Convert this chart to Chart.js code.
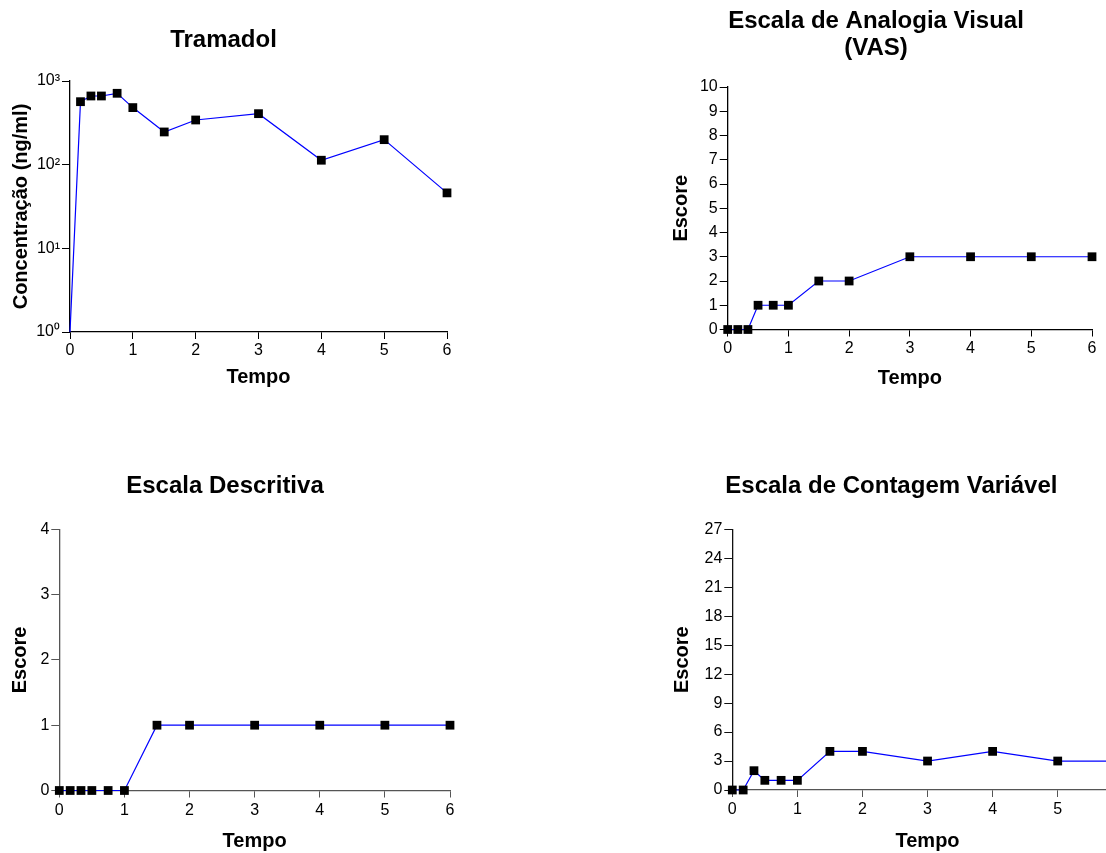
<!DOCTYPE html>
<html>
<head>
<meta charset="utf-8">
<script src="https://cdn.jsdelivr.net/npm/chart.js@4.4.1/dist/chart.umd.min.js"></script>
<style>
    html, body { margin: 0; padding: 0; background: #fff; overflow: hidden; }
    body { position: relative; width: 1106px; height: 853px; }
    canvas { position: absolute; }
</style>
</head>
<body>
<canvas id="tramadolChart" width="517" height="389" style="left:0px;top:0px"></canvas>
<canvas id="vasChart" width="500" height="390" style="left:660px;top:0px"></canvas>
<canvas id="descChart" width="509" height="423" style="left:0px;top:430px"></canvas>
<canvas id="contChart" width="535" height="423" style="left:660px;top:430px"></canvas>
<script>
// time points (hours)
const tempo = [0, 0.167, 0.333, 0.5, 0.75, 1, 1.5, 2, 3, 4, 5, 6];
const tempoTicks = [0, 1, 2, 3, 4, 5, 6];

// Tramadol concentration (ng/ml), first point sits on the axis bottom
const tramadolConc = [1, 566, 662, 662, 713, 481, 246, 342, 407, 113, 199, 46];
const tramadolTicks = [1, 10, 100, 1000];
const tramadolTickLabels = ["10⁰", "10¹", "10²", "10³"];

const vasScore = [0, 0, 0, 1, 1, 1, 2, 2, 3, 3, 3, 3];
const vasTicks = [0, 1, 2, 3, 4, 5, 6, 7, 8, 9, 10];

const descScore = [0, 0, 0, 0, 0, 0, 1, 1, 1, 1, 1, 1];
const descTicks = [0, 1, 2, 3, 4];

const contScore = [0, 0, 2, 1, 1, 1, 4, 4, 3, 4, 3, 3];
const contTicks = [0, 3, 6, 9, 12, 15, 18, 21, 24, 27];

Chart.defaults.font.family = 'Arial, "Liberation Sans", sans-serif';
Chart.defaults.color = "#000";

function toPoints(xs, ys) {
    return xs.map((x, i) => ({ x, y: ys[i] }));
}

function setTicks(values) {
    return scale => { scale.ticks = values.map(v => ({ value: v })); };
}

function makeChart(id, o) {
    const canvas = document.getElementById(id);
    return new Chart(canvas, {
        type: "line",
        data: {
            datasets: [{
                data: toPoints(tempo, o.values),
                borderColor: "#0000ff",
                borderWidth: 1.2,
                pointStyle: "rect",
                pointRadius: o.radius || 6.2,
                pointBackgroundColor: "#000",
                pointBorderColor: "#000",
                pointBorderWidth: 0,
                tension: 0,
                clip: false
            }]
        },
        options: {
            responsive: false,
            animation: false,
            events: [],
            layout: { padding: { left: 0, right: o.padRight, top: 0, bottom: 0 } },
            plugins: {
                legend: { display: false },
                tooltip: { enabled: false },
                title: {
                    display: true,
                    text: o.title,
                    color: "#000",
                    font: { size: 24, weight: "bold", lineHeight: o.titleLine || 1.2 },
                    padding: { top: o.titleTop, bottom: o.titleBottom }
                }
            },
            scales: {
                x: {
                    type: "linear",
                    min: 0,
                    max: 6,
                    afterBuildTicks: setTicks(tempoTicks),
                    afterFit: scale => {
                        scale.height = o.xHeight;
                        scale.paddingLeft = scale.paddingRight = 0;
                        scale.paddingTop = scale.paddingBottom = 0;
                    },
                    grid: {
                        drawOnChartArea: false,
                        drawTicks: true,
                        tickLength: 7,
                        tickColor: o.xColor,
                        tickWidth: 1
                    },
                    border: { display: true, color: o.xColor, width: 1.3 },
                    ticks: {
                        padding: o.xPad,
                        maxRotation: 0,
                        autoSkip: false,
                        font: { size: 16 },
                        callback: v => String(v)
                    },
                    title: {
                        display: true,
                        text: "Tempo",
                        font: { size: 20, weight: "bold" },
                        padding: { top: 0, bottom: 0 }
                    }
                },
                y: {
                    type: o.log ? "logarithmic" : "linear",
                    min: o.yTicks[0],
                    max: o.yTicks[o.yTicks.length - 1],
                    afterBuildTicks: setTicks(o.yTicks),
                    afterFit: scale => {
                        scale.width = o.yWidth;
                        scale.paddingLeft = scale.paddingRight = 0;
                        scale.paddingTop = scale.paddingBottom = 0;
                    },
                    grid: {
                        drawOnChartArea: false,
                        drawTicks: true,
                        tickLength: 8,
                        tickColor: o.yColor,
                        tickWidth: 1
                    },
                    border: { display: true, color: o.yColor, width: 1.3 },
                    ticks: {
                        padding: 2,
                        autoSkip: false,
                        font: { size: 16 },
                        callback: o.yLabels
                            ? v => o.yLabels[o.yTicks.indexOf(v)]
                            : v => String(v)
                    },
                    title: {
                        display: true,
                        text: o.yTitle,
                        font: { size: 20, weight: "bold" },
                        padding: { top: o.yTitlePad, bottom: 0 }
                    }
                }
            }
        }
    });
}

makeChart("tramadolChart", {
    title: "Tramadol",
    values: tramadolConc,
    radius: tramadolConc.map((v, i) => i === 0 ? 0 : 6.2),
    log: true,
    yTicks: tramadolTicks,
    yLabels: tramadolTickLabels,
    yTitle: "Concentração (ng/ml)",
    yTitlePad: 9.7,
    yWidth: 70,
    padRight: 70,
    titleTop: 25.6,
    titleBottom: 26.6,
    xHeight: 57,
    xPad: 2.4,
    xColor: "#000",
    yColor: "#000"
});

makeChart("vasChart", {
    title: ["Escala de Analogia Visual", "(VAS)"],
    titleLine: 1.125,
    values: vasScore,
    yTicks: vasTicks,
    yTitle: "Escore",
    yTitlePad: 9.7,
    yWidth: 67.7,
    padRight: 68,
    titleTop: 7.7,
    titleBottom: 25.3,
    xHeight: 60.5,
    xPad: 2.9,
    xColor: "#000",
    yColor: "#000"
});

makeChart("descChart", {
    title: "Escala Descritiva",
    values: descScore,
    yTicks: descTicks,
    yTitle: "Escore",
    yTitlePad: 8,
    yWidth: 59.3,
    padRight: 59,
    titleTop: 41.6,
    titleBottom: 28.9,
    xHeight: 62.5,
    xPad: 3.9,
    xColor: "#555",
    yColor: "#555"
});

makeChart("contChart", {
    title: "Escala de Contagem Variável",
    values: contScore,
    yTicks: contTicks,
    yTitle: "Escore",
    yTitlePad: 10.7,
    yWidth: 72.3,
    padRight: 72.2,
    titleTop: 41.6,
    titleBottom: 28.9,
    xHeight: 63,
    xPad: 3.4,
    xColor: "#555",
    yColor: "#111"
});
</script>
</body>
</html>
